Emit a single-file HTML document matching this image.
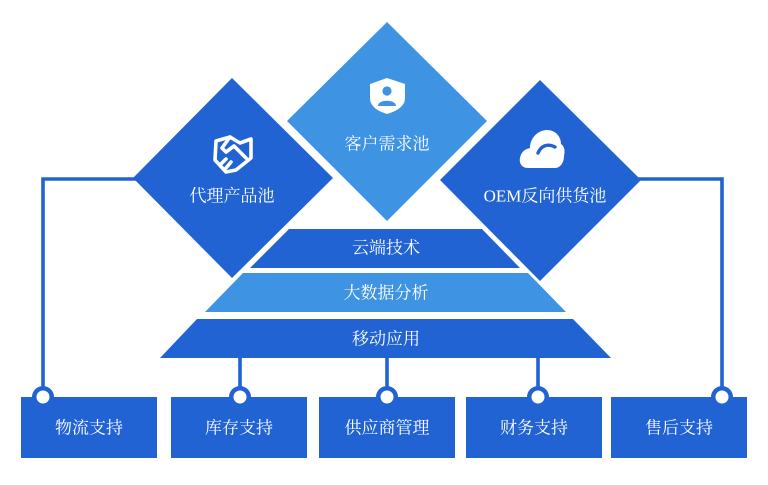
<!DOCTYPE html>
<html><head><meta charset="utf-8"><style>
html,body{margin:0;padding:0;background:#fff;}
svg{display:block;}
text{font-family:"Liberation Serif","Noto Serif CJK SC",serif;fill:#fff;font-size:17px;text-anchor:middle;dominant-baseline:central;}
</style></head><body>
<svg width="768" height="485" viewBox="0 0 768 485" xmlns="http://www.w3.org/2000/svg">
<!-- connectors -->
<g stroke="#2163d3" stroke-width="3.6" fill="none">
<polyline points="43,397 43,179 140,179"/>
<polyline points="630,179 722,179 722,397"/>
<line x1="240" y1="355" x2="240" y2="397"/>
<line x1="387" y1="355" x2="387" y2="397"/>
<line x1="538" y1="355" x2="538" y2="397"/>
</g>
<!-- diamonds -->
<polygon points="232,78 333,178 232,278 133,178" fill="#2163d3"/>
<polygon points="387,22 487,121 387,221 287,121" fill="#3e93e2"/>
<polygon points="540,80 641,180 540,281 440,180" fill="#2163d3"/>
<!-- pyramid -->
<polygon points="289,229 482,229 520,268 250,268" fill="#2163d3"/>
<polygon points="243,273 528,273 566,312 205,312" fill="#3e93e2"/>
<polygon points="197,319 573,319 611,358 160,358" fill="#2163d3"/>
<text x="386" y="248">云端技术</text>
<text x="386" y="293">大数据分析</text>
<text x="386" y="339">移动应用</text>
<!-- diamond labels -->
<text x="232" y="196">代理产品池</text>
<text x="387" y="144">客户需求池</text>
<text x="545" y="196">OEM反向供货池</text>
<!-- shield icon -->
<path d="M387,78 L405,84 L405,98 C405,106 397,111 387,114 C377,111 370,106 370,98 L370,84 Z" fill="#fff"/>
<circle cx="387" cy="91" r="4.6" fill="#3e93e2"/>
<path d="M378,106 C378,99 396,99 396,106 Z" fill="#3e93e2"/>
<!-- handshake icon -->
<g fill="none" stroke="#fff" stroke-width="3.6" stroke-linejoin="round" stroke-linecap="round">
<path d="M216,141 L230,137 L240,143 L251,139 L251,158 L236,170 L226,172 L215,160 Z"/>
<path d="M230,137 L222,148 L226,152 L234,146 L246,158"/>
<path d="M221,164 L226,159 M226,168 L231,162"/>
</g>
<!-- cloud icon -->
<path d="M528,168 C521,168 519,162 520,158 C521,152 525,149 530,148 C530,137 539,130 547,130 C555,130 561,136 561,144 C565,147 565,151 564,156 C564,163 560,168 555,168 Z" fill="#fff"/>
<path d="M538,153 C541,146 547,143 555,147" fill="none" stroke="#2163d3" stroke-width="3.4" stroke-linecap="round"/>
<!-- boxes -->
<g fill="#2163d3">
<rect x="21" y="397" width="136" height="61"/>
<rect x="171" y="397" width="136" height="61"/>
<rect x="319" y="397" width="136" height="61"/>
<rect x="466" y="397" width="136" height="61"/>
<rect x="611" y="397" width="136" height="61"/>
</g>
<g>
<circle cx="43" cy="397" r="11" fill="#2163d3"/><circle cx="43" cy="397" r="6.5" fill="#fff"/>
<circle cx="240" cy="397" r="11" fill="#2163d3"/><circle cx="240" cy="397" r="6.5" fill="#fff"/>
<circle cx="387" cy="397" r="11" fill="#2163d3"/><circle cx="387" cy="397" r="6.5" fill="#fff"/>
<circle cx="538" cy="397" r="11" fill="#2163d3"/><circle cx="538" cy="397" r="6.5" fill="#fff"/>
<circle cx="722" cy="397" r="11" fill="#2163d3"/><circle cx="722" cy="397" r="6.5" fill="#fff"/>
</g>
<text x="89" y="428">物流支持</text>
<text x="239" y="428">库存支持</text>
<text x="387" y="428">供应商管理</text>
<text x="534" y="428">财务支持</text>
<text x="679" y="428">售后支持</text>
</svg>
</body></html>
